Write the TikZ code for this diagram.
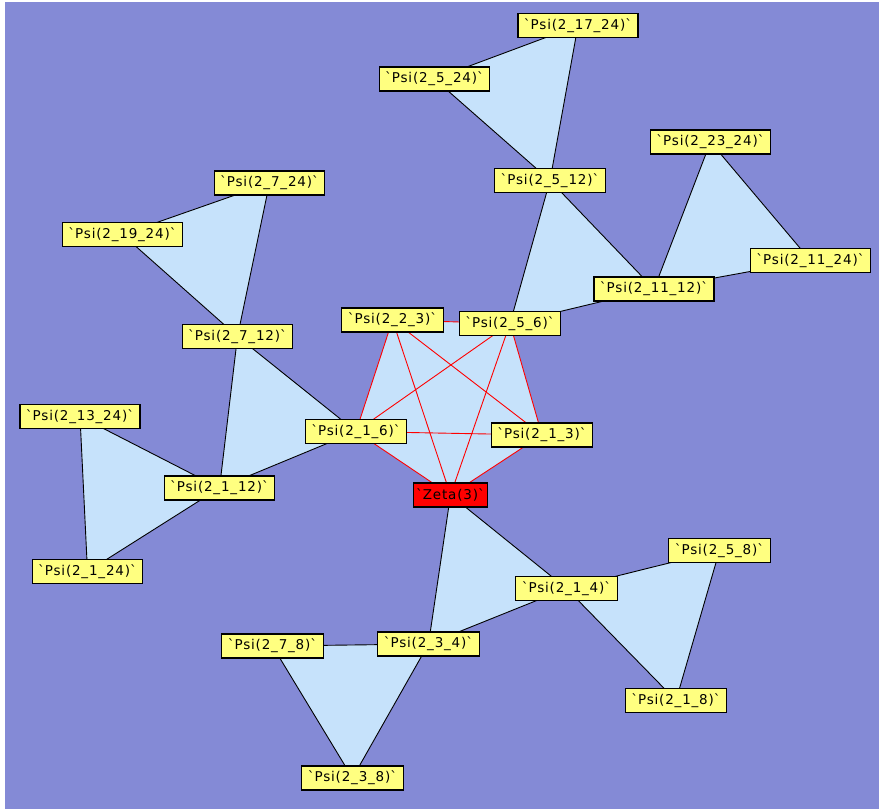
\documentclass[tikz,border=0pt]{standalone}
\usepackage{fontspec}
\newfontfamily\boxfont[LetterSpace=6]{DejaVu Sans}
\usetikzlibrary{backgrounds}
\definecolor{bgblue}{RGB}{132,138,214}
\definecolor{cellblue}{RGB}{198,226,251}
\definecolor{tagyellow}{RGB}{255,255,128}
\newcommand\pl[3]{\textasciigrave Psi(#1\_#2\_#3)\textasciigrave}
\tikzset{
  tag/.style={draw=black, fill=tagyellow, line width=1.1pt, minimum height=24pt,
    inner xsep=6pt, inner ysep=0pt, font=\boxfont\fontsize{13.5pt}{13.5pt}\selectfont},
  cell/.style={fill=cellblue, draw=black, line width=0.9pt, line join=round},
  pair/.style={draw=red, line width=0.9pt}
}
\begin{document}
\begin{tikzpicture}[x=1pt,y=-1pt]
\useasboundingbox (0,0) rectangle (879,809);
% upper right
\node[tag] (p2-17-24) at (578,25.5) {\pl{2}{17}{24}};
\node[tag] (p2-5-24) at (434.5,79) {\pl{2}{5}{24}};
\node[tag] (p2-5-12) at (550,180.5) {\pl{2}{5}{12}};
\node[tag] (p2-23-24) at (710.5,142) {\pl{2}{23}{24}};
\node[tag] (p2-11-24) at (810.5,260.5) {\pl{2}{11}{24}};
\node[tag] (p2-11-12) at (654,289) {\pl{2}{11}{12}};
% upper left
\node[tag] (p2-7-24) at (269.5,183) {\pl{2}{7}{24}};
\node[tag] (p2-19-24) at (122.5,234.5) {\pl{2}{19}{24}};
\node[tag] (p2-7-12) at (237.5,336.5) {\pl{2}{7}{12}};
\node[tag] (p2-13-24) at (80,416.5) {\pl{2}{13}{24}};
\node[tag] (p2-1-12) at (219.5,488) {\pl{2}{1}{12}};
\node[tag] (p2-1-24) at (87.5,571.5) {\pl{2}{1}{24}};
% centre
\node[tag] (p2-2-3) at (392.5,320) {\pl{2}{2}{3}};
\node[tag] (p2-5-6) at (510,323.5) {\pl{2}{5}{6}};
\node[tag] (p2-1-6) at (356,431.5) {\pl{2}{1}{6}};
\node[tag] (p2-1-3) at (542,435) {\pl{2}{1}{3}};
\node[tag, fill=red, inner xsep=2.5pt] (z3) at (450.5,495) {\textasciigrave Zeta(3)\textasciigrave};
% lower part
\node[tag] (p2-5-8) at (719.5,550.5) {\pl{2}{5}{8}};
\node[tag] (p2-1-4) at (566.5,588.5) {\pl{2}{1}{4}};
\node[tag] (p2-1-8) at (676,700.5) {\pl{2}{1}{8}};
\node[tag] (p2-7-8) at (272.5,646) {\pl{2}{7}{8}};
\node[tag] (p2-3-4) at (428.5,644) {\pl{2}{3}{4}};
\node[tag] (p2-3-8) at (352.5,778) {\pl{2}{3}{8}};

\begin{pgfonlayer}{background}
\fill[white] (0,0) rectangle (879,809);
\fill[bgblue] (5,2) rectangle (879,809);
\foreach \a/\b/\c in {z3/p2-1-4/p2-3-4, p2-1-4/p2-5-8/p2-1-8, p2-3-4/p2-7-8/p2-3-8,
    p2-1-6/p2-7-12/p2-1-12, p2-7-12/p2-7-24/p2-19-24, p2-1-12/p2-13-24/p2-1-24,
    p2-5-6/p2-5-12/p2-11-12, p2-5-12/p2-17-24/p2-5-24, p2-11-12/p2-23-24/p2-11-24}
  \filldraw[cell] (\a.center) -- (\b.center) -- (\c.center) -- cycle;
\fill[cellblue] (p2-2-3.center) -- (p2-5-6.center) -- (p2-1-3.center) -- (z3.center) -- (p2-1-6.center) -- cycle;
\foreach \a/\b in {p2-2-3/p2-5-6, p2-2-3/p2-1-6, p2-2-3/p2-1-3, p2-2-3/z3, p2-5-6/p2-1-6,
    p2-5-6/p2-1-3, p2-5-6/z3, p2-1-6/p2-1-3, p2-1-6/z3, p2-1-3/z3}
  \draw[pair] (\a.center) -- (\b.center);
\end{pgfonlayer}
\end{tikzpicture}
\end{document}
